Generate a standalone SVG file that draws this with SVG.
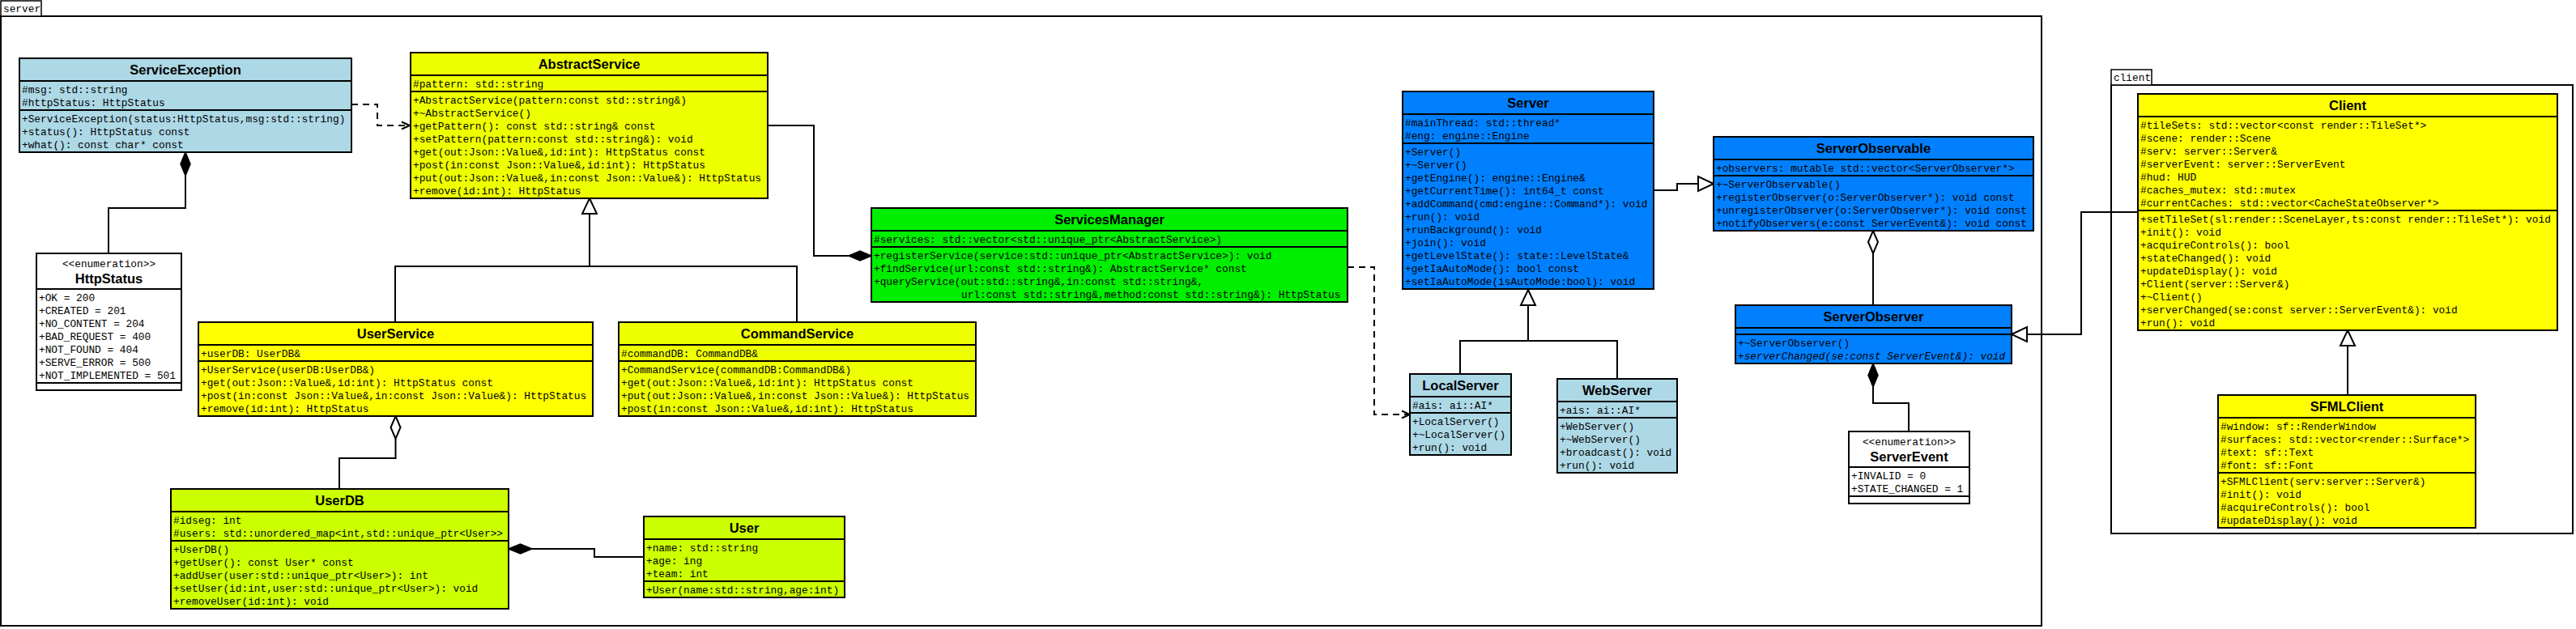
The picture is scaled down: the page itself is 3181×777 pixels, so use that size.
<svg xmlns="http://www.w3.org/2000/svg" width="3181" height="777" viewBox="0 0 3181 777">
<style>
.bg{fill:#fff}
.pkg{fill:none;stroke:#000;stroke-width:2}
.tab{fill:#fff;stroke:#000;stroke-width:1.5}
.box{stroke:#000;stroke-width:2}
.div{stroke:#000;stroke-width:2}
.t{font-family:"Liberation Mono","DejaVu Sans Mono",monospace;font-size:12.8px;fill:#000}
.c{text-anchor:middle}
.i{font-style:italic}
.title{font-family:"Liberation Sans",Arial,sans-serif;font-weight:bold;font-size:16.5px;fill:#000;text-anchor:middle}
.conn{fill:none;stroke:#000;stroke-width:2}
.dash{stroke-dasharray:8 6}
.fill{fill:#000;stroke:#000;stroke-width:1.5}
.hollow{fill:#fff;stroke:#000;stroke-width:2}
.lb{fill:#add8e6}.yl{fill:#ffff00}.gy{fill:#eeff00}.ly{fill:#ccff00}.gr{fill:#00ee00}.bl{fill:#0080ff}.wh{fill:#fff}
</style>
<rect class="bg" x="0" y="0" width="3181" height="777"/>

<g id="pkg-server">
<rect class="pkg" x="1" y="20" width="2520" height="753"/>
<rect class="tab" x="1" y="1" width="50" height="19"/>
<text class="t" x="4" y="15">server</text>
</g>
<g id="pkg-client">
<rect class="pkg" x="2607" y="105" width="570" height="554"/>
<rect class="tab" x="2607" y="86" width="50" height="19"/>
<text class="t" x="2610" y="100">client</text>
</g>

<g id="connectors">
<!-- ServiceException -> AbstractService dependency -->
<path class="conn dash" d="M434,129 H466 V155 H505"/>
<polyline class="conn" points="496,150.5 506,155 496,159.5"/>
<!-- ServiceException composition HttpStatus -->
<path class="conn" d="M229,217 V257 H134 V313"/>
<polygon class="fill" points="229,188 235,202.5 229,217 223,202.5"/>
<!-- inheritance to AbstractService -->
<path class="conn" d="M728,264 V329 M488,398 V329 H984 V398"/>
<polygon class="hollow" points="728,245 737,264 719,264"/>
<!-- UserService aggregation UserDB -->
<path class="conn" d="M488.5,542 V566 H419 V604"/>
<polygon class="hollow" points="488.5,514 494.5,528 488.5,542 482.5,528"/>
<!-- UserDB composition User -->
<path class="conn" d="M657,678 H734 V688 H795"/>
<polygon class="fill" points="628,678 642.5,672 657,678 642.5,684"/>
<!-- ServicesManager composition AbstractService -->
<path class="conn" d="M948,155 H1005 V316 H1048"/>
<polygon class="fill" points="1048,316 1062,310 1076,316 1062,322"/>
<!-- ServicesManager -> LocalServer dependency -->
<path class="conn dash" d="M1664,330 H1697 V512 H1740"/>
<polyline class="conn" points="1731,507.5 1741,512 1731,516.5"/>
<!-- LocalServer/WebServer -> Server -->
<path class="conn" d="M1887,377 V421 M1803,462 V421 H1997 V468"/>
<polygon class="hollow" points="1887,358 1896,377 1878,377"/>
<!-- Server -> ServerObservable -->
<path class="conn" d="M2042,235 H2071 V227 H2097"/>
<polygon class="hollow" points="2116,227 2097,218 2097,236"/>
<!-- ServerObservable aggregation ServerObserver -->
<path class="conn" d="M2313,313 V377"/>
<polygon class="hollow" points="2313,285 2319,299 2313,313 2307,299"/>
<!-- ServerObserver composition ServerEvent -->
<path class="conn" d="M2313,478 V498 H2357 V533"/>
<polygon class="fill" points="2313,449 2319,463.5 2313,478 2307,463.5"/>
<!-- Client -> ServerObserver -->
<path class="conn" d="M2640,262 H2570 V413 H2503"/>
<polygon class="hollow" points="2484,413 2503,404 2503,422"/>
<!-- SFMLClient -> Client -->
<path class="conn" d="M2899,427 V488"/>
<polygon class="hollow" points="2899,408 2908,427 2890,427"/>
</g>

<g id="ServiceException">
<rect class="box lb" x="24" y="72" width="410" height="116"/>
<line class="div" x1="24" y1="100" x2="434" y2="100"/><line class="div" x1="24" y1="136" x2="434" y2="136"/>
<text class="title" x="229" y="92">ServiceException</text>
<text class="t" x="27" y="115">#msg: std::string</text>
<text class="t" x="27" y="131">#httpStatus: HttpStatus</text>
<text class="t" x="27" y="151">+ServiceException(status:HttpStatus,msg:std::string)</text>
<text class="t" x="27" y="167">+status(): HttpStatus const</text>
<text class="t" x="27" y="183">+what(): const char* const</text>
</g>

<g id="HttpStatus">
<rect class="box wh" x="45" y="313" width="179" height="169"/>
<line class="div" x1="45" y1="357" x2="224" y2="357"/><line class="div" x1="45" y1="473" x2="224" y2="473"/>
<text class="t c" x="134.5" y="330">&lt;&lt;enumeration&gt;&gt;</text>
<text class="title" x="134.5" y="350">HttpStatus</text>
<text class="t" x="48" y="372">+OK = 200</text>
<text class="t" x="48" y="388">+CREATED = 201</text>
<text class="t" x="48" y="404">+NO_CONTENT = 204</text>
<text class="t" x="48" y="420">+BAD_REQUEST = 400</text>
<text class="t" x="48" y="436">+NOT_FOUND = 404</text>
<text class="t" x="48" y="452">+SERVE_ERROR = 500</text>
<text class="t" x="48" y="468">+NOT_IMPLEMENTED = 501</text>
</g>

<g id="AbstractService">
<rect class="box gy" x="507" y="65" width="441" height="180"/>
<line class="div" x1="507" y1="93" x2="948" y2="93"/><line class="div" x1="507" y1="113" x2="948" y2="113"/>
<text class="title" x="727.5" y="85">AbstractService</text>
<text class="t" x="510" y="108">#pattern: std::string</text>
<text class="t" x="510" y="128">+AbstractService(pattern:const std::string&amp;)</text>
<text class="t" x="510" y="144">+~AbstractService()</text>
<text class="t" x="510" y="160">+getPattern(): const std::string&amp; const</text>
<text class="t" x="510" y="176">+setPattern(pattern:const std::string&amp;): void</text>
<text class="t" x="510" y="192">+get(out:Json::Value&amp;,id:int): HttpStatus const</text>
<text class="t" x="510" y="208">+post(in:const Json::Value&amp;,id:int): HttpStatus</text>
<text class="t" x="510" y="224">+put(out:Json::Value&amp;,in:const Json::Value&amp;): HttpStatus</text>
<text class="t" x="510" y="240">+remove(id:int): HttpStatus</text>
</g>

<g id="UserService">
<rect class="box yl" x="245" y="398" width="487" height="116"/>
<line class="div" x1="245" y1="426" x2="732" y2="426"/><line class="div" x1="245" y1="446" x2="732" y2="446"/>
<text class="title" x="488.5" y="418">UserService</text>
<text class="t" x="248" y="441">+userDB: UserDB&amp;</text>
<text class="t" x="248" y="461">+UserService(userDB:UserDB&amp;)</text>
<text class="t" x="248" y="477">+get(out:Json::Value&amp;,id:int): HttpStatus const</text>
<text class="t" x="248" y="493">+post(in:const Json::Value&amp;,in:const Json::Value&amp;): HttpStatus</text>
<text class="t" x="248" y="509">+remove(id:int): HttpStatus</text>
</g>

<g id="CommandService">
<rect class="box gy" x="764" y="398" width="441" height="116"/>
<line class="div" x1="764" y1="426" x2="1205" y2="426"/><line class="div" x1="764" y1="446" x2="1205" y2="446"/>
<text class="title" x="984.5" y="418">CommandService</text>
<text class="t" x="767" y="441">#commandDB: CommandDB&amp;</text>
<text class="t" x="767" y="461">+CommandService(commandDB:CommandDB&amp;)</text>
<text class="t" x="767" y="477">+get(out:Json::Value&amp;,id:int): HttpStatus const</text>
<text class="t" x="767" y="493">+put(out:Json::Value&amp;,in:const Json::Value&amp;): HttpStatus</text>
<text class="t" x="767" y="509">+post(in:const Json::Value&amp;,id:int): HttpStatus</text>
</g>

<g id="UserDB">
<rect class="box ly" x="211" y="604" width="417" height="148"/>
<line class="div" x1="211" y1="632" x2="628" y2="632"/><line class="div" x1="211" y1="668" x2="628" y2="668"/>
<text class="title" x="419.5" y="624">UserDB</text>
<text class="t" x="214" y="647">#idseg: int</text>
<text class="t" x="214" y="663">#users: std::unordered_map&lt;int,std::unique_ptr&lt;User&gt;&gt;</text>
<text class="t" x="214" y="683">+UserDB()</text>
<text class="t" x="214" y="699">+getUser(): const User* const</text>
<text class="t" x="214" y="715">+addUser(user:std::unique_ptr&lt;User&gt;): int</text>
<text class="t" x="214" y="731">+setUser(id:int,user:std::unique_ptr&lt;User&gt;): void</text>
<text class="t" x="214" y="747">+removeUser(id:int): void</text>
</g>

<g id="User">
<rect class="box ly" x="795" y="638" width="248" height="100"/>
<line class="div" x1="795" y1="666" x2="1043" y2="666"/><line class="div" x1="795" y1="718" x2="1043" y2="718"/>
<text class="title" x="919" y="658">User</text>
<text class="t" x="798" y="681">+name: std::string</text>
<text class="t" x="798" y="697">+age: ing</text>
<text class="t" x="798" y="713">+team: int</text>
<text class="t" x="798" y="733">+User(name:std::string,age:int)</text>
</g>

<g id="ServicesManager">
<rect class="box gr" x="1076" y="257" width="588" height="116"/>
<line class="div" x1="1076" y1="285" x2="1664" y2="285"/><line class="div" x1="1076" y1="305" x2="1664" y2="305"/>
<text class="title" x="1370" y="277">ServicesManager</text>
<text class="t" x="1079" y="300">#services: std::vector&lt;std::unique_ptr&lt;AbstractService&gt;)</text>
<text class="t" x="1079" y="320">+registerService(service:std::unique_ptr&lt;AbstractService&gt;): void</text>
<text class="t" x="1079" y="336">+findService(url:const std::string&amp;): AbstractService* const</text>
<text class="t" x="1079" y="352">+queryService(out:std::string&amp;,in:const std::string&amp;,</text>
<text class="t" x="1187" y="368">url:const std::string&amp;,method:const std::string&amp;): HttpStatus</text>
</g>

<g id="Server">
<rect class="box bl" x="1732" y="113" width="310" height="244"/>
<line class="div" x1="1732" y1="141" x2="2042" y2="141"/><line class="div" x1="1732" y1="177" x2="2042" y2="177"/>
<text class="title" x="1887" y="133">Server</text>
<text class="t" x="1735" y="156">#mainThread: std::thread*</text>
<text class="t" x="1735" y="172">#eng: engine::Engine</text>
<text class="t" x="1735" y="192">+Server()</text>
<text class="t" x="1735" y="208">+~Server()</text>
<text class="t" x="1735" y="224">+getEngine(): engine::Engine&amp;</text>
<text class="t" x="1735" y="240">+getCurrentTime(): int64_t const</text>
<text class="t" x="1735" y="256">+addCommand(cmd:engine::Command*): void</text>
<text class="t" x="1735" y="272">+run(): void</text>
<text class="t" x="1735" y="288">+runBackground(): void</text>
<text class="t" x="1735" y="304">+join(): void</text>
<text class="t" x="1735" y="320">+getLevelState(): state::LevelState&amp;</text>
<text class="t" x="1735" y="336">+getIaAutoMode(): bool const</text>
<text class="t" x="1735" y="352">+setIaAutoMode(isAutoMode:bool): void</text>
</g>

<g id="LocalServer">
<rect class="box lb" x="1741" y="462" width="125" height="100"/>
<line class="div" x1="1741" y1="490" x2="1866" y2="490"/><line class="div" x1="1741" y1="510" x2="1866" y2="510"/>
<text class="title" x="1803.5" y="482">LocalServer</text>
<text class="t" x="1744" y="505">#ais: ai::AI*</text>
<text class="t" x="1744" y="525">+LocalServer()</text>
<text class="t" x="1744" y="541">+~LocalServer()</text>
<text class="t" x="1744" y="557">+run(): void</text>
</g>

<g id="WebServer">
<rect class="box lb" x="1923" y="468" width="148" height="116"/>
<line class="div" x1="1923" y1="496" x2="2071" y2="496"/><line class="div" x1="1923" y1="516" x2="2071" y2="516"/>
<text class="title" x="1997" y="488">WebServer</text>
<text class="t" x="1926" y="511">+ais: ai::AI*</text>
<text class="t" x="1926" y="531">+WebServer()</text>
<text class="t" x="1926" y="547">+~WebServer()</text>
<text class="t" x="1926" y="563">+broadcast(): void</text>
<text class="t" x="1926" y="579">+run(): void</text>
</g>

<g id="ServerObservable">
<rect class="box bl" x="2116" y="169" width="395" height="116"/>
<line class="div" x1="2116" y1="197" x2="2511" y2="197"/><line class="div" x1="2116" y1="217" x2="2511" y2="217"/>
<text class="title" x="2313.5" y="189">ServerObservable</text>
<text class="t" x="2119" y="212">+observers: mutable std::vector&lt;ServerObserver*&gt;</text>
<text class="t" x="2119" y="232">+~ServerObservable()</text>
<text class="t" x="2119" y="248">+registerObserver(o:ServerObserver*): void const</text>
<text class="t" x="2119" y="264">+unregisterObserver(o:ServerObserver*): void const</text>
<text class="t" x="2119" y="280">+notifyObservers(e:const ServerEvent&amp;): void const</text>
</g>

<g id="ServerObserver">
<rect class="box bl" x="2143" y="377" width="341" height="72"/>
<line class="div" x1="2143" y1="405" x2="2484" y2="405"/><line class="div" x1="2143" y1="413" x2="2484" y2="413"/>
<text class="title" x="2313.5" y="397">ServerObserver</text>
<text class="t" x="2146" y="428">+~ServerObserver()</text>
<text class="t i" x="2146" y="444">+serverChanged(se:const ServerEvent&amp;): void</text>
</g>

<g id="ServerEvent">
<rect class="box wh" x="2283" y="533" width="149" height="89"/>
<line class="div" x1="2283" y1="577" x2="2432" y2="577"/><line class="div" x1="2283" y1="613" x2="2432" y2="613"/>
<text class="t c" x="2357.5" y="550">&lt;&lt;enumeration&gt;&gt;</text>
<text class="title" x="2357.5" y="570">ServerEvent</text>
<text class="t" x="2286" y="592">+INVALID = 0</text>
<text class="t" x="2286" y="608">+STATE_CHANGED = 1</text>
</g>

<g id="Client">
<rect class="box yl" x="2640" y="116" width="518" height="292"/>
<line class="div" x1="2640" y1="144" x2="3158" y2="144"/><line class="div" x1="2640" y1="260" x2="3158" y2="260"/>
<text class="title" x="2899" y="136">Client</text>
<text class="t" x="2643" y="159">#tileSets: std::vector&lt;const render::TileSet*&gt;</text>
<text class="t" x="2643" y="175">#scene: render::Scene</text>
<text class="t" x="2643" y="191">#serv: server::Server&amp;</text>
<text class="t" x="2643" y="207">#serverEvent: server::ServerEvent</text>
<text class="t" x="2643" y="223">#hud: HUD</text>
<text class="t" x="2643" y="239">#caches_mutex: std::mutex</text>
<text class="t" x="2643" y="255">#currentCaches: std::vector&lt;CacheStateObserver*&gt;</text>
<text class="t" x="2643" y="275">+setTileSet(sl:render::SceneLayer,ts:const render::TileSet*): void</text>
<text class="t" x="2643" y="291">+init(): void</text>
<text class="t" x="2643" y="307">+acquireControls(): bool</text>
<text class="t" x="2643" y="323">+stateChanged(): void</text>
<text class="t" x="2643" y="339">+updateDisplay(): void</text>
<text class="t" x="2643" y="355">+Client(server::Server&amp;)</text>
<text class="t" x="2643" y="371">+~Client()</text>
<text class="t" x="2643" y="387">+serverChanged(se:const server::ServerEvent&amp;): void</text>
<text class="t" x="2643" y="403">+run(): void</text>
</g>

<g id="SFMLClient">
<rect class="box yl" x="2739" y="488" width="318" height="164"/>
<line class="div" x1="2739" y1="516" x2="3057" y2="516"/><line class="div" x1="2739" y1="584" x2="3057" y2="584"/>
<text class="title" x="2898" y="508">SFMLClient</text>
<text class="t" x="2742" y="531">#window: sf::RenderWindow</text>
<text class="t" x="2742" y="547">#surfaces: std::vector&lt;render::Surface*&gt;</text>
<text class="t" x="2742" y="563">#text: sf::Text</text>
<text class="t" x="2742" y="579">#font: sf::Font</text>
<text class="t" x="2742" y="599">+SFMLClient(serv:server::Server&amp;)</text>
<text class="t" x="2742" y="615">#init(): void</text>
<text class="t" x="2742" y="631">#acquireControls(): bool</text>
<text class="t" x="2742" y="647">#updateDisplay(): void</text>
</g>
</svg>
